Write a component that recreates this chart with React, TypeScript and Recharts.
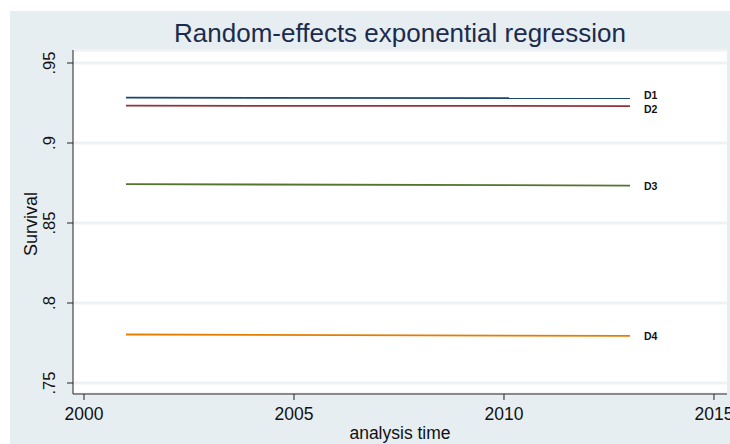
import React from 'react'
import { LineChart, Line, XAxis, YAxis, CartesianGrid, LabelList } from 'recharts'

// analysis time (start and end of each fitted curve)
const years = [2001, 2013]
const d1 = [0.9283, 0.928]
const d2 = [0.9233, 0.9231]
const d3 = [0.8743, 0.8734]
const d4 = [0.7803, 0.7794]

const seriesNames = ['D1', 'D2', 'D3', 'D4']
const seriesColors = ['#1a476f', '#90353b', '#55752f', '#e37e00']
const labelShift = [-3, 3, 0, 0]

const xTicks = [2000, 2005, 2010, 2015]
const yTicks = [0.75, 0.8, 0.85, 0.9, 0.95]
const yTickLabels = ['.75', '.8', '.85', '.9', '.95']

const data = years.map((t, i) => ({ t, D1: d1[i], D2: d2[i], D3: d3[i], D4: d4[i] }))

const font = 'Liberation Sans, Arial, Helvetica, sans-serif'

const YTick = ({ y, payload }: any) => {
  const idx = yTicks.indexOf(payload.value)
  return (
    <text
      x={49}
      y={y}
      transform={`rotate(-90 49 ${y})`}
      textAnchor="middle"
      dominantBaseline="central"
      fontSize={16.5}
      fontFamily={font}
      fill="#111"
    >
      {yTickLabels[idx]}
    </text>
  )
}

const XTick = ({ x, payload }: any) => (
  <text x={x} y={414} textAnchor="middle" dominantBaseline="central" fontSize={17.5} fontFamily={font} fill="#111">
    {payload.value}
  </text>
)

const endLabel = (k: number) => (props: any) => {
  const { x, y, index } = props
  if (index !== years.length - 1) return null
  return (
    <text
      x={x + 14}
      y={y + labelShift[k]}
      dominantBaseline="central"
      fontSize={10.5}
      fontWeight="bold"
      fontFamily={font}
      fill="#111"
    >
      {seriesNames[k]}
    </text>
  )
}

export default function App() {
  return (
    <div style={{ position: 'fixed', left: 0, top: 0, width: 730, height: 444, background: '#fff', overflow: 'hidden' }}>
      <div style={{ position: 'absolute', left: 10, top: 11, right: 0, bottom: 0, background: '#e7eef1' }} />
      <div
        style={{
          position: 'absolute',
          left: 73,
          width: 654,
          top: 16,
          textAlign: 'center',
          fontFamily: font,
          fontSize: 26,
          lineHeight: '34px',
          color: '#1c2b4d',
        }}
      >
        Random-effects exponential regression
      </div>
      <div style={{ position: 'absolute', left: 0, top: 0 }}>
        <LineChart width={730} height={444} data={data} margin={{ top: 50, right: 3, bottom: 0, left: 0 }}>
          <CartesianGrid
            horizontal
            vertical={false}
            fill="#fff"
            stroke="#eef2f4"
            strokeWidth={3}
          />
          <XAxis
            dataKey="t"
            type="number"
            domain={[1999.738, 2015.31]}
            ticks={xTicks}
            height={50}
            tick={<XTick />}
            tickSize={6}
            axisLine={{ stroke: '#222', strokeWidth: 1 }}
            tickLine={{ stroke: '#222' }}
            allowDataOverflow
            label={{
              content: () => (
                <text x={400} y={433} textAnchor="middle" dominantBaseline="central" fontSize={17.5} fontFamily={font} fill="#111">
                  analysis time
                </text>
              ),
            }}
          />
          <YAxis
            type="number"
            domain={[0.743125, 0.958125]}
            ticks={yTicks}
            width={73}
            tick={<YTick />}
            tickSize={6}
            axisLine={{ stroke: '#222', strokeWidth: 1 }}
            tickLine={{ stroke: '#222' }}
            allowDataOverflow
            label={{
              content: () => (
                <text
                  x={31}
                  y={224}
                  transform="rotate(-90 31 224)"
                  textAnchor="middle"
                  dominantBaseline="central"
                  fontSize={18}
                  fontFamily={font}
                  fill="#111"
                >
                  Survival
                </text>
              ),
            }}
          />
          {seriesNames.map((name, k) => (
            <Line
              key={name}
              dataKey={name}
              stroke={seriesColors[k]}
              strokeWidth={1.8}
              dot={false}
              activeDot={false}
              isAnimationActive={false}
            >
              <LabelList dataKey={name} content={endLabel(k)} />
            </Line>
          ))}
        </LineChart>
      </div>
    </div>
  )
}
